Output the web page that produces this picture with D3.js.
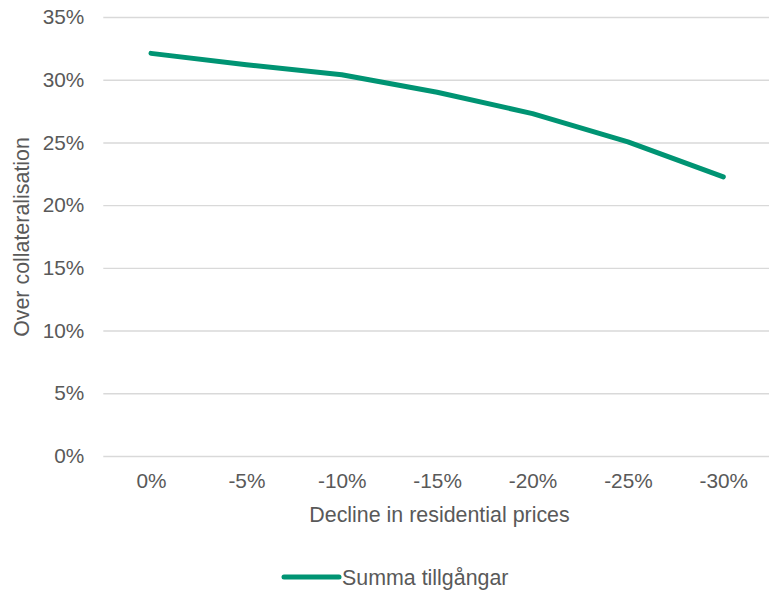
<!DOCTYPE html>
<html>
<head>
<meta charset="utf-8">
<script src="https://cdn.jsdelivr.net/npm/d3@7"></script>
<style>
  body { margin: 0; background: #fff; }
  text { font-family: "Liberation Sans", Arial, sans-serif; fill: #595959; }
</style>
</head>
<body>
<div id="chart"></div>
<script>
// Data
var categories = ["0%", "-5%", "-10%", "-15%", "-20%", "-25%", "-30%"];
var values = [32.1, 31.2, 30.4, 29.0, 27.3, 25.05, 22.25];
var yTicks = [0, 5, 10, 15, 20, 25, 30, 35];
var seriesName = "Summa tillgångar";

var W = 769, H = 591;
var margin = { top: 17, right: -2, bottom: 135, left: 103.3 };
var width = W - margin.left - margin.right;
var height = H - margin.top - margin.bottom;
var green = "#009473";

var svg = d3.select("#chart")
    .append("svg")
    .attr("width", W)
    .attr("height", H);

var g = svg.append("g")
    .attr("transform", "translate(" + margin.left + "," + margin.top + ")");

var x = d3.scalePoint()
    .domain(categories)
    .range([0, width])
    .padding(0.5);

var y = d3.scaleLinear()
    .domain([0, 35])
    .range([height, 0]);

// gridlines + y labels
var yAxis = d3.axisLeft(y)
    .tickValues(yTicks)
    .tickSize(-width)
    .tickPadding(19)
    .tickFormat(function (d) { return d + "%"; });

g.append("g")
    .attr("class", "y axis")
    .call(yAxis)
    .call(function (a) {
      a.select(".domain").remove();
      a.selectAll(".tick line").attr("stroke", "#d9d9d9").attr("stroke-width", 1.4);
      a.selectAll(".tick text").style("font-size", "20.8px").attr("fill", "#595959");
    });

// x labels
var xAxis = d3.axisBottom(x)
    .tickSize(0)
    .tickPadding(17);

g.append("g")
    .attr("class", "x axis")
    .attr("transform", "translate(0," + height + ")")
    .call(xAxis)
    .call(function (a) {
      a.select(".domain").remove();
      a.selectAll(".tick text").style("font-size", "20.8px").attr("fill", "#595959");
    });

// line (straight segments between points)
var line = d3.line()
    .x(function (d, i) { return x(categories[i]); })
    .y(function (d) { return y(d); });

g.append("path")
    .datum(values)
    .attr("fill", "none")
    .attr("stroke", green)
    .attr("stroke-width", 5)
    .attr("stroke-linejoin", "round")
    .attr("stroke-linecap", "round")
    .attr("d", line);

// axis titles
svg.append("text")
    .attr("text-anchor", "middle")
    .attr("x", 439.5)
    .attr("y", 522)
    .style("font-size", "21.4px")
    .text("Decline in residential prices");

svg.append("text")
    .attr("text-anchor", "middle")
    .attr("transform", "translate(29,237) rotate(-90)")
    .style("font-size", "21.4px")
    .text("Over collateralisation");

// legend
var legend = svg.append("g").attr("transform", "translate(284,577)");
legend.append("line")
    .attr("x1", 0).attr("x2", 55)
    .attr("stroke", green)
    .attr("stroke-width", 5)
    .attr("stroke-linecap", "round");
legend.append("text")
    .attr("x", 58)
    .attr("dy", "0.35em")
    .style("font-size", "21.4px")
    .text(seriesName);
</script>
</body>
</html>
